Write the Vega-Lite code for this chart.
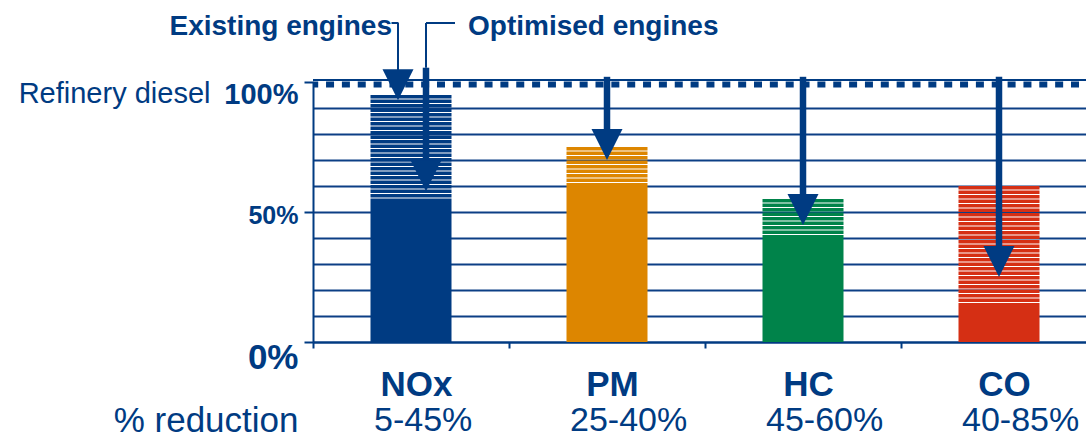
{
  "$schema": "https://vega.github.io/schema/vega-lite/v6.json",
  "width": 773,
  "height": 260,
  "autosize": {"type": "none"},
  "padding": {"left": 313, "top": 82, "right": 0, "bottom": 96},
  "background": "white",
  "config": {"view": {"stroke": null}, "font": "Liberation Sans"},
  "resolve": {"axis": {"x": "independent", "y": "independent"}},
  "datasets": {
    "emissions": [
      {"pollutant": "NOx", "optimised": 55, "existing": 95, "reduction": "5-45%"},
      {"pollutant": "PM", "optimised": 60, "existing": 75, "reduction": "25-40%"},
      {"pollutant": "HC", "optimised": 40, "existing": 55, "reduction": "45-60%"},
      {"pollutant": "CO", "optimised": 15, "existing": 60, "reduction": "40-85%"}
    ],
    "reference": [
      {"fuel": "Refinery diesel", "level": 100}
    ],
    "arrows": [
      {"pollutant": "NOx", "engines": "Existing engines", "leader": 122.7, "shaft": null, "tip": 93},
      {"pollutant": "NOx", "engines": "Optimised engines", "leader": 122.7, "shaft": 105.5, "tip": 58},
      {"pollutant": "PM", "engines": "Optimised engines", "leader": null, "shaft": 102, "tip": 70},
      {"pollutant": "HC", "engines": "Optimised engines", "leader": null, "shaft": 102, "tip": 45},
      {"pollutant": "CO", "engines": "Optimised engines", "leader": null, "shaft": 102, "tip": 25}
    ]
  },
  "layer": [
    {
      "data": {"name": "emissions"},
      "mark": {"type": "bar", "width": 81},
      "encoding": {
        "x": {
          "field": "pollutant", "type": "nominal",
          "scale": {"domain": ["NOx", "PM", "HC", "CO"], "range": [0, 784], "paddingInner": 0, "paddingOuter": 0},
          "axis": {
            "title": "% reduction",
            "titleFont": "Liberation Sans", "titleFontSize": 35, "titleFontWeight": "normal", "titleColor": "#003B82",
            "titleAlign": "right", "titleBaseline": "alphabetic", "titleX": -15, "titleY": 89,
            "labelFont": "Liberation Sans", "labelFontWeight": "bold", "labelFontSize": 35, "labelColor": "#003B82",
            "labelAngle": 0, "labelBaseline": "alphabetic", "labelPadding": 47, "labelOffset": 5,
            "tickBand": "extent", "tickSize": 6, "tickWidth": 2, "tickColor": "#003B82",
            "domain": true, "domainColor": "#003B82", "domainWidth": 2,
            "grid": false
          }
        },
        "y": {
          "field": "optimised", "type": "quantitative",
          "scale": {"domain": [0, 100], "nice": false},
          "axis": {
            "values": [0, 10, 20, 30, 40, 50, 60, 70, 80, 90, 100],
            "labelExpr": "datum.value % 50 === 0 ? datum.value + '%' : ''",
            "labelFont": "Liberation Sans", "labelFontWeight": "bold", "labelColor": "#003B82",
            "labelFontSize": {"condition": [{"test": "datum.value === 0", "value": 35}, {"test": "datum.value === 50", "value": 25}], "value": 29},
            "labelBaseline": "alphabetic",
            "labelOffset": {"condition": [{"test": "datum.value === 0", "value": 26}, {"test": "datum.value === 50", "value": 11}], "value": 21},
            "labelPadding": 6, "labelOverlap": false, "labelFlush": false, "labelBound": false,
            "ticks": true, "tickSize": 9, "tickWidth": 2, "tickColor": "#003B82",
            "tickOpacity": {"condition": {"test": "datum.value % 50 === 0", "value": 1}, "value": 0},
            "domain": true, "domainColor": "#003B82", "domainWidth": 2,
            "grid": true, "gridColor": "#0C3F85", "gridWidth": 2,
            "gridOpacity": {"condition": {"test": "datum.value === 100", "value": 0}, "value": 1},
            "title": "Refinery diesel",
            "titleFont": "Liberation Sans", "titleFontSize": 29, "titleFontWeight": "normal", "titleColor": "#003B82",
            "titleAngle": 0, "titleAlign": "right", "titleBaseline": "alphabetic", "titleX": -103, "titleY": 20
          }
        },
        "color": {
          "field": "pollutant", "type": "nominal",
          "scale": {"domain": ["NOx", "PM", "HC", "CO"], "range": ["#003B82", "#DD8600", "#00834A", "#D52F14"]},
          "legend": null
        }
      }
    },
    {
      "data": {"name": "emissions"},
      "mark": {"type": "rule", "strokeWidth": 81, "strokeDash": [3.4, 1.1], "strokeCap": "butt"},
      "encoding": {
        "x": {"field": "pollutant", "type": "nominal", "scale": {"domain": ["NOx", "PM", "HC", "CO"], "range": [0, 784], "paddingInner": 0, "paddingOuter": 0}, "axis": null},
        "y": {"field": "existing", "type": "quantitative", "scale": {"domain": [0, 100], "nice": false}, "axis": null},
        "y2": {"field": "optimised"},
        "color": {
          "field": "pollutant", "type": "nominal",
          "scale": {"domain": ["NOx", "PM", "HC", "CO"], "range": ["#003B82", "#DD8600", "#00834A", "#D52F14"]},
          "legend": null
        }
      }
    },
    {
      "data": {"name": "reference"},
      "mark": {"type": "rule", "strokeWidth": 2, "color": "#003B82", "yOffset": -2},
      "encoding": {"y": {"field": "level", "type": "quantitative", "scale": {"domain": [0, 100], "nice": false}, "axis": null}}
    },
    {
      "data": {"name": "reference"},
      "mark": {"type": "rule", "strokeWidth": 6, "color": "#003B82", "strokeDash": [8, 7.85], "strokeDashOffset": 8.85, "strokeCap": "butt", "yOffset": 2.5},
      "encoding": {"y": {"field": "level", "type": "quantitative", "scale": {"domain": [0, 100], "nice": false}, "axis": null}}
    },
    {
      "data": {"name": "arrows"},
      "transform": [{"filter": "datum.engines === 'Existing engines'"}],
      "layer": [
        {
          "mark": {"type": "rule", "strokeWidth": 2, "color": "#003B82", "xOffset": -13, "y2Offset": -20},
          "encoding": {"y": {"field": "leader"}, "y2": {"field": "tip"}}
        },
        {
          "mark": {"type": "tick", "orient": "horizontal", "size": 7, "thickness": 2, "color": "#003B82", "xOffset": -16, "opacity": 1},
          "encoding": {"y": {"field": "leader"}}
        },
        {
          "mark": {"type": "point", "shape": "M-1,-2L1,-2L0,0Z", "size": 961, "filled": true, "opacity": 1, "strokeWidth": 0, "color": "#003B82", "xOffset": -13},
          "encoding": {"y": {"field": "tip"}}
        },
        {
          "mark": {"type": "text", "align": "right", "baseline": "alphabetic", "dx": -19, "dy": 12, "font": "Liberation Sans", "fontWeight": "bold", "fontSize": 28, "color": "#003B82"},
          "encoding": {"y": {"field": "leader"}, "text": {"field": "engines"}}
        }
      ],
      "encoding": {
        "x": {"field": "pollutant", "type": "nominal", "scale": {"domain": ["NOx", "PM", "HC", "CO"], "range": [0, 784], "paddingInner": 0, "paddingOuter": 0}, "axis": null},
        "y": {"type": "quantitative", "scale": {"domain": [0, 100], "nice": false}, "axis": null}
      }
    },
    {
      "data": {"name": "arrows"},
      "transform": [{"filter": "datum.engines === 'Optimised engines' && datum.pollutant === 'NOx'"}],
      "layer": [
        {
          "mark": {"type": "rule", "strokeWidth": 2, "color": "#003B82", "xOffset": 15},
          "encoding": {"y": {"field": "leader"}, "y2": {"field": "shaft"}}
        },
        {
          "mark": {"type": "tick", "orient": "horizontal", "size": 29, "thickness": 2, "color": "#003B82", "xOffset": 29.5, "opacity": 1},
          "encoding": {"y": {"field": "leader"}}
        },
        {
          "mark": {"type": "rule", "strokeWidth": 6.5, "color": "#003B82", "xOffset": 15, "y2Offset": -25},
          "encoding": {"y": {"field": "shaft"}, "y2": {"field": "tip"}}
        },
        {
          "mark": {"type": "point", "shape": "M-1,-2L1,-2L0,0Z", "size": 961, "filled": true, "opacity": 1, "strokeWidth": 0, "color": "#003B82", "xOffset": 15},
          "encoding": {"y": {"field": "tip"}}
        },
        {
          "mark": {"type": "text", "align": "left", "baseline": "alphabetic", "dx": 57, "dy": 12, "font": "Liberation Sans", "fontWeight": "bold", "fontSize": 28, "color": "#003B82"},
          "encoding": {"y": {"field": "leader"}, "text": {"field": "engines"}}
        }
      ],
      "encoding": {
        "x": {"field": "pollutant", "type": "nominal", "scale": {"domain": ["NOx", "PM", "HC", "CO"], "range": [0, 784], "paddingInner": 0, "paddingOuter": 0}, "axis": null},
        "y": {"type": "quantitative", "scale": {"domain": [0, 100], "nice": false}, "axis": null}
      }
    },
    {
      "data": {"name": "arrows"},
      "transform": [{"filter": "datum.pollutant !== 'NOx'"}],
      "layer": [
        {
          "mark": {"type": "rule", "strokeWidth": 6.5, "color": "#003B82", "y2Offset": -25},
          "encoding": {"y": {"field": "shaft"}, "y2": {"field": "tip"}}
        },
        {
          "mark": {"type": "point", "shape": "M-1,-2L1,-2L0,0Z", "size": 961, "filled": true, "opacity": 1, "strokeWidth": 0, "color": "#003B82"},
          "encoding": {"y": {"field": "tip"}}
        }
      ],
      "encoding": {
        "x": {"field": "pollutant", "type": "nominal", "scale": {"domain": ["NOx", "PM", "HC", "CO"], "range": [0, 784], "paddingInner": 0, "paddingOuter": 0}, "axis": null},
        "y": {"type": "quantitative", "scale": {"domain": [0, 100], "nice": false}, "axis": null}
      }
    },
    {
      "data": {"name": "emissions"},
      "mark": {"type": "text", "align": "left", "baseline": "alphabetic", "dx": -37, "dy": 89, "font": "Liberation Sans", "fontSize": 34, "color": "#003B82"},
      "encoding": {
        "x": {"field": "pollutant", "type": "nominal", "scale": {"domain": ["NOx", "PM", "HC", "CO"], "range": [0, 784], "paddingInner": 0, "paddingOuter": 0}, "axis": null},
        "y": {"datum": 0, "type": "quantitative", "scale": {"domain": [0, 100], "nice": false}, "axis": null},
        "text": {"field": "reduction"}
      }
    }
  ]
}
